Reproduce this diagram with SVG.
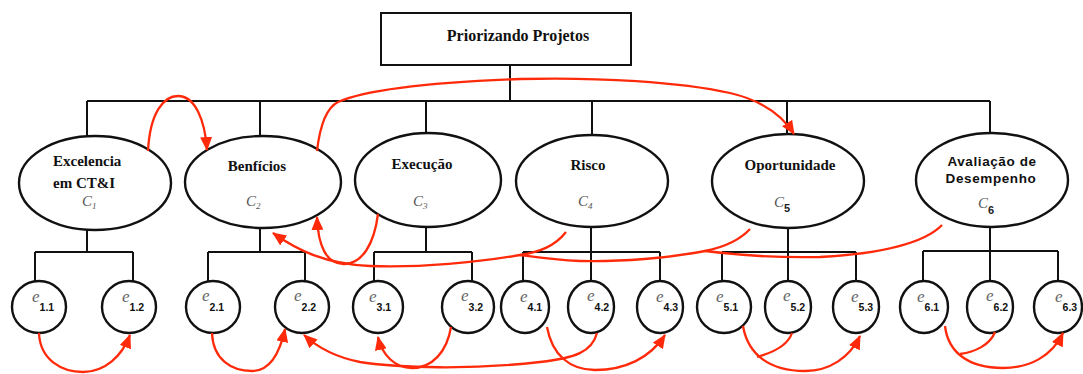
<svg xmlns="http://www.w3.org/2000/svg" width="1083" height="374" viewBox="0 0 1083 374">
<defs>
<style>
.box{fill:#fff;stroke:#111;stroke-width:2}
.ell{fill:#fff;stroke:#111;stroke-width:2.4}
.tree{fill:none;stroke:#111;stroke-width:2}
.rel{fill:none;stroke:#ff2a0a;stroke-width:2.3}
.t{font-family:"Liberation Serif",serif;font-weight:bold;font-size:15px;fill:#111}
.tm{text-anchor:middle}
.ts{font-family:"Liberation Sans",sans-serif;font-weight:bold;font-size:13.5px;fill:#111;letter-spacing:0.6px;text-anchor:middle}
.c{font-family:"Liberation Serif",serif;font-style:italic;font-size:15px;fill:#555}
.cs{font-size:9px}
.cb{font-family:"Liberation Sans",sans-serif;font-style:normal;font-weight:bold;font-size:11px;fill:#222}
.e{font-family:"Liberation Serif",serif;font-style:italic;font-size:17px;fill:#666}
.es{font-family:"Liberation Sans",sans-serif;font-style:normal;font-weight:bold;font-size:10.5px;fill:#111}
</style>
<marker id="ah" markerWidth="14" markerHeight="12" refX="13" refY="6" orient="auto" markerUnits="userSpaceOnUse"><path d="M0,0 L14,6 L0,12 z" fill="#ff2a0a"/></marker>
</defs>
<rect width="1083" height="374" fill="#fff"/>

<g id="connectors">
<g id="tree" class="tree">
<path d="M510,65 V101 M87,101 H990 M87,101 V136 M260,101 V136 M426,101 V133 M592,101 V135 M787,101 V135 M990,101 V133"/>
<path d="M87,229 V252 M35,252 H133 M35,252 V281 M133,252 V281"/>
<path d="M260,228 V252 M208,252 H305 M208,252 V281 M305,252 V281"/>
<path d="M426,226 V252 M374,252 H472 M374,252 V281 M472,252 V281"/>
<path d="M591,227 V252 M523,252 H660 M523,252 V281 M591,252 V281 M660,252 V281"/>
<path d="M788,228 V252 M722,252 H856 M722,252 V281 M788,252 V281 M856,252 V281"/>
<path d="M990,227 V251 M923,251 H1058 M923,251 V281 M990,251 V281 M1058,251 V281"/>
</g>
</g>

<g id="root"><rect class="box" x="381" y="13" width="250" height="52"/><text class="t tm" x="518" y="41" style="font-size:16px">Priorizando Projetos</text></g>

<g id="C1"><ellipse class="ell" cx="95" cy="183" rx="76" ry="47"/><text class="t" x="53" y="166">Excelencia</text><text class="t" x="53" y="188">em CT&amp;I</text><text class="c" x="82" y="206">C<tspan class="cs" dy="3">1</tspan></text></g>
<g id="C2"><ellipse class="ell" cx="263" cy="182" rx="78" ry="46"/><text class="t tm" x="257" y="171">Benfícios</text><text class="c" x="246" y="206">C<tspan class="cs" dy="3">2</tspan></text></g>
<g id="C3"><ellipse class="ell" cx="428" cy="180" rx="73" ry="47"/><text class="t tm" x="422" y="169">Execução</text><text class="c" x="413" y="206">C<tspan class="cs" dy="3">3</tspan></text></g>
<g id="C4"><ellipse class="ell" cx="592" cy="181" rx="76" ry="46"/><text class="t tm" x="588" y="170">Risco</text><text class="c" x="578" y="206">C<tspan class="cs" dy="3">4</tspan></text></g>
<g id="C5"><ellipse class="ell" cx="788" cy="181" rx="76" ry="47"/><text class="t tm" x="790" y="170">Oportunidade</text><text class="c" x="774" y="207">C<tspan class="cb" dy="5">5</tspan></text></g>
<g id="C6"><ellipse class="ell" cx="992" cy="180" rx="76" ry="47"/><text class="ts" x="992" y="166">Avaliação de</text><text class="ts" x="991" y="183">Desempenho</text><text class="c" x="978" y="208">C<tspan class="cb" dy="6">6</tspan></text></g>

<g id="e11"><ellipse class="ell" cx="39" cy="307" rx="27" ry="26"/><text class="e" x="32" y="302">e<tspan class="es" dy="9">1.1</tspan></text></g>
<g id="e12"><ellipse class="ell" cx="129" cy="307" rx="27" ry="26"/><text class="e" x="122" y="302">e<tspan class="es" dy="9">1.2</tspan></text></g>
<g id="e21"><ellipse class="ell" cx="213" cy="307" rx="27" ry="26"/><text class="e" x="202" y="301">e<tspan class="es" dy="10">2.1</tspan></text></g>
<g id="e22"><ellipse class="ell" cx="302" cy="307" rx="27" ry="26"/><text class="e" x="294" y="301">e<tspan class="es" dy="10">2.2</tspan></text></g>
<g id="e31"><ellipse class="ell" cx="378" cy="307" rx="25" ry="26"/><text class="e" x="369" y="302">e<tspan class="es" dy="9">3.1</tspan></text></g>
<g id="e32"><ellipse class="ell" cx="468" cy="307" rx="26" ry="26"/><text class="e" x="461" y="301">e<tspan class="es" dy="10">3.2</tspan></text></g>
<g id="e41"><ellipse class="ell" cx="525" cy="307" rx="24" ry="26"/><text class="e" x="520" y="302">e<tspan class="es" dy="9">4.1</tspan></text></g>
<g id="e42"><ellipse class="ell" cx="591" cy="307" rx="23" ry="26"/><text class="e" x="587" y="301">e<tspan class="es" dy="10">4.2</tspan></text></g>
<g id="e43"><ellipse class="ell" cx="660" cy="307" rx="23" ry="26"/><text class="e" x="656" y="302">e<tspan class="es" dy="9">4.3</tspan></text></g>
<g id="e51"><ellipse class="ell" cx="724" cy="307" rx="27" ry="26"/><text class="e" x="716" y="302">e<tspan class="es" dy="9">5.1</tspan></text></g>
<g id="e52"><ellipse class="ell" cx="788" cy="307" rx="23" ry="26"/><text class="e" x="783" y="301">e<tspan class="es" dy="10">5.2</tspan></text></g>
<g id="e53"><ellipse class="ell" cx="856" cy="307" rx="23" ry="26"/><text class="e" x="851" y="302">e<tspan class="es" dy="9">5.3</tspan></text></g>
<g id="e61"><ellipse class="ell" cx="924" cy="307" rx="24" ry="26"/><text class="e" x="917" y="302">e<tspan class="es" dy="9">6.1</tspan></text></g>
<g id="e62"><ellipse class="ell" cx="990" cy="307" rx="23" ry="26"/><text class="e" x="986" y="301">e<tspan class="es" dy="10">6.2</tspan></text></g>
<g id="e63"><ellipse class="ell" cx="1058" cy="307" rx="24" ry="26"/><text class="e" x="1055" y="302">e<tspan class="es" dy="9">6.3</tspan></text></g>

<g id="relations" class="rel">
<path d="M148,151 C150,112 164,96 178,96 C195,96 205,120 207,150" marker-end="url(#ah)"/>
<path d="M317,151 C320,125 326,108 338,102 C370,88 440,82 520,79 C600,77 680,82 730,93 C760,100 782,115 794,134" marker-end="url(#ah)"/>
<path d="M378,214 C374,245 362,263 345,264 C326,265 318,245 317,217" marker-end="url(#ah)"/>
<path d="M566,232 C555,246 540,252 520,255 C480,262 420,268 370,266 C325,264 297,250 273,233" marker-end="url(#ah)"/>
<path d="M750,229 C738,242 720,248 705,251 C670,258 620,262 580,261 C555,260 535,257 520,255"/>
<path d="M942,225 C925,243 880,254 820,257 C780,258 745,256 705,251"/>
<path d="M39,333 C40,360 62,372 83,372 C105,372 122,356 130,335" marker-end="url(#ah)"/>
<path d="M212,333 C213,360 232,371 252,371 C270,371 280,352 285,329" marker-end="url(#ah)"/>
<path d="M597,333 C592,352 575,358 540,362 C470,370 400,368 360,362 C335,357 318,348 304,335" marker-end="url(#ah)"/>
<path d="M451,327 C447,352 432,368 412,368 C395,368 382,355 378,337" marker-end="url(#ah)"/>
<path d="M547,327 C552,355 570,370 595,370 C625,370 650,358 665,335" marker-end="url(#ah)"/>
<path d="M743,326 C748,355 770,371 805,371 C830,371 850,357 860,336" marker-end="url(#ah)"/>
<path d="M792,333 C788,345 775,352 757,357"/>
<path d="M945,326 C948,352 968,368 1003,368 C1030,368 1052,356 1063,333" marker-end="url(#ah)"/>
<path d="M995,332 C990,345 975,352 960,354"/>
</g>
</svg>
